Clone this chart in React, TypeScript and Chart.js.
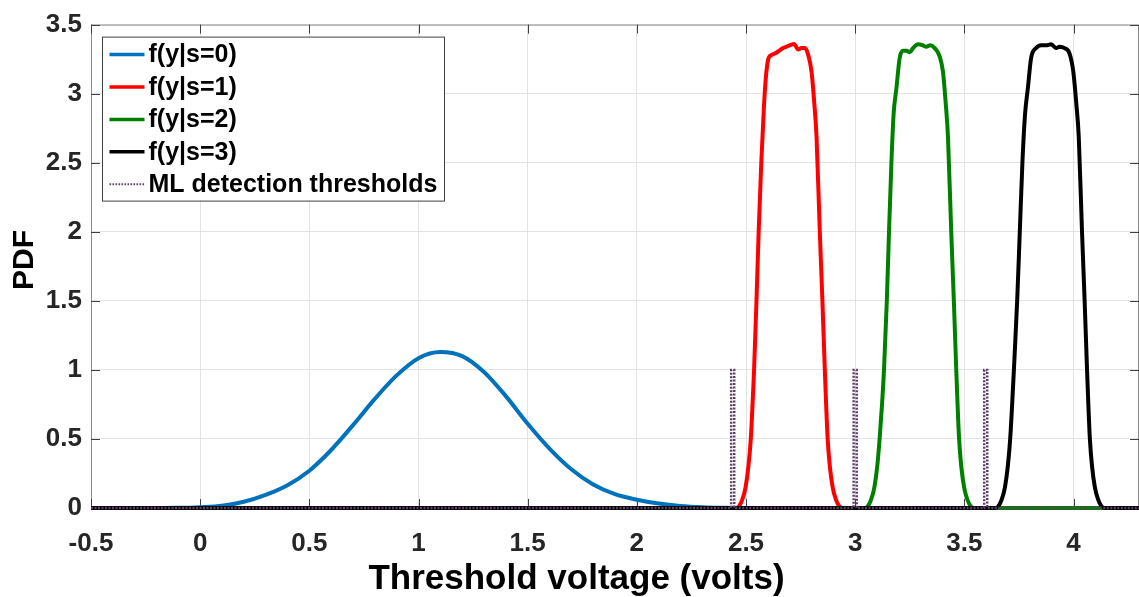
import React, { useEffect, useRef } from 'react';
import { Chart, registerables } from 'chart.js';

Chart.register(...registerables);

const FONT = "'Liberation Sans', Arial, Helvetica, sans-serif";

const xTicks = [-0.5, 0, 0.5, 1, 1.5, 2, 2.5, 3, 3.5, 4];
const yTicks = [0, 0.5, 1, 1.5, 2, 2.5, 3, 3.5];
const xMin = -0.5;
const xMax = 4.3;
const yMin = 0;
const yMax = 3.5;

const xTitle = 'Threshold voltage (volts)';
const yTitle = 'PDF';

const seriesLabels = ['f(y|s=0)', 'f(y|s=1)', 'f(y|s=2)', 'f(y|s=3)', 'ML detection thresholds'];
const seriesColors = ['#0072BD', '#FF0000', '#008000', '#000000', '#5E3F66'];

// f(y|s=0)
const s0X = [-0.5, -0.4, -0.3, -0.2, -0.1, 0, 0.1, 0.2, 0.3, 0.4, 0.5, 0.6, 0.7, 0.8, 0.9, 1.0, 1.1, 1.2, 1.3, 1.4, 1.5, 1.6, 1.7, 1.8, 1.9, 2.0, 2.1, 2.2, 2.3, 2.4, 2.5, 4.3];
const s0Y = [0, 0, 0, 0, 0.001, 0.006, 0.016, 0.045, 0.095, 0.165, 0.27, 0.42, 0.6, 0.79, 0.96, 1.085, 1.13, 1.1, 0.985, 0.81, 0.61, 0.43, 0.28, 0.17, 0.1, 0.06, 0.032, 0.015, 0.006, 0.002, 0, 0];

// f(y|s=1)
const s1X = [-0.5, 2.43, 2.455, 2.469, 2.483, 2.498, 2.511, 2.522, 2.53, 2.537, 2.548, 2.558, 2.57, 2.582, 2.59, 2.602, 2.617, 2.632, 2.647, 2.67, 2.7, 2.72, 2.739, 2.754, 2.77, 2.785, 2.8, 2.813, 2.823, 2.838, 2.85, 2.861, 2.867, 2.874, 2.884, 2.897, 2.912, 2.926, 2.94, 2.97, 4.3];
const s1Y = [0, 0, 0, 0.015, 0.06, 0.15, 0.3, 0.5, 0.75, 1.0, 1.5, 2.0, 2.5, 2.9, 3.1, 3.25, 3.28, 3.29, 3.305, 3.33, 3.35, 3.36, 3.32, 3.33, 3.33, 3.28, 3.16, 2.925, 2.69, 2.0, 1.5, 1.0, 0.75, 0.5, 0.3, 0.15, 0.06, 0.015, 0, 0, 0];

// f(y|s=2)
const s2X = [-0.5, 3.02, 3.045, 3.059, 3.073, 3.088, 3.101, 3.112, 3.123, 3.132, 3.145, 3.155, 3.166, 3.176, 3.189, 3.204, 3.219, 3.235, 3.25, 3.265, 3.288, 3.31, 3.326, 3.344, 3.364, 3.387, 3.402, 3.415, 3.425, 3.44, 3.452, 3.463, 3.469, 3.476, 3.486, 3.499, 3.514, 3.528, 3.542, 3.57, 4.3];
const s2Y = [0, 0, 0, 0.015, 0.06, 0.15, 0.3, 0.5, 0.75, 1.0, 1.5, 2.0, 2.5, 2.85, 3.04, 3.26, 3.31, 3.31, 3.3, 3.33, 3.357, 3.35, 3.34, 3.35, 3.33, 3.27, 3.16, 2.925, 2.69, 2.0, 1.5, 1.0, 0.75, 0.5, 0.3, 0.15, 0.06, 0.015, 0, 0, 0];

// f(y|s=3)
const s3X = [-0.5, 3.62, 3.643, 3.657, 3.671, 3.686, 3.699, 3.71, 3.719, 3.727, 3.742, 3.754, 3.766, 3.778, 3.791, 3.806, 3.829, 3.852, 3.875, 3.898, 3.921, 3.936, 3.959, 3.982, 3.999, 4.013, 4.024, 4.039, 4.051, 4.062, 4.068, 4.075, 4.085, 4.098, 4.113, 4.127, 4.141, 4.17, 4.3];
const s3Y = [0, 0, 0, 0.015, 0.06, 0.15, 0.3, 0.5, 0.75, 1.0, 1.5, 2.0, 2.5, 2.85, 3.04, 3.26, 3.33, 3.35, 3.35, 3.357, 3.33, 3.34, 3.33, 3.29, 3.16, 2.925, 2.69, 2.0, 1.5, 1.0, 0.75, 0.5, 0.3, 0.15, 0.06, 0.015, 0, 0, 0];

// ML detection thresholds
const thresholdVolts = [2.439, 3.0, 3.598];
const thresholdLevel = 1;
const thresholdHalfWidth = 0.007;

const zip = (xs: number[], ys: number[]) => xs.map((x, i) => ({ x, y: ys[i] }));

const thresholdPoints = (() => {
  const pts: { x: number; y: number }[] = [{ x: xMin, y: 0 }];
  thresholdVolts.forEach((t) => {
    pts.push({ x: t - thresholdHalfWidth, y: 0 });
    pts.push({ x: t - thresholdHalfWidth, y: thresholdLevel });
    pts.push({ x: t + thresholdHalfWidth, y: thresholdLevel });
    pts.push({ x: t + thresholdHalfWidth, y: 0 });
  });
  pts.push({ x: xMax, y: 0 });
  return pts;
})();

const framePlugin = {
  id: 'matlabFrame',
  beforeDatasetsDraw(chart: any) {
    const { ctx, chartArea } = chart;
    const { left, right, top, bottom } = chartArea;
    const xs = chart.scales.x;
    const ys = chart.scales.y;
    ctx.save();
    ctx.strokeStyle = '#8a8a8a';
    ctx.lineWidth = 1;
    ctx.strokeRect(left + 0.5, top + 0.5, right - left - 1, bottom - top - 1);
    ctx.strokeStyle = '#404040';
    const tl = 9;
    ctx.beginPath();
    xTicks.forEach((v) => {
      const px = Math.round(xs.getPixelForValue(v)) + 0.5;
      ctx.moveTo(px, bottom);
      ctx.lineTo(px, bottom - tl);
      ctx.moveTo(px, top);
      ctx.lineTo(px, top + tl);
    });
    yTicks.forEach((v) => {
      const py = Math.round(ys.getPixelForValue(v)) + 0.5;
      ctx.moveTo(left, py);
      ctx.lineTo(left + tl, py);
      ctx.moveTo(right, py);
      ctx.lineTo(right - tl, py);
    });
    ctx.stroke();
    ctx.restore();
  },
  afterDraw(chart: any) {
    const { ctx, chartArea } = chart;
    const { left, top } = chartArea;
    ctx.save();
    // axis titles
    ctx.fillStyle = '#000';
    ctx.font = `bold 35px ${FONT}`;
    ctx.textAlign = 'center';
    ctx.textBaseline = 'alphabetic';
    ctx.fillText(xTitle, left + 485.5, 589);
    ctx.save();
    ctx.translate(33, 260);
    ctx.rotate(-Math.PI / 2);
    ctx.font = `bold 30px ${FONT}`;
    ctx.fillText(yTitle, 0, 0);
    ctx.restore();

    // legend
    const lx = left + 11.5;
    const ly = top + 12;
    const lw = 342;
    const lh = 164;
    ctx.fillStyle = '#ffffff';
    ctx.fillRect(lx, ly, lw, lh);
    ctx.strokeStyle = '#404040';
    ctx.lineWidth = 1;
    ctx.strokeRect(lx, ly + 0.5, lw, lh);
    ctx.font = `bold 25px ${FONT}`;
    ctx.textAlign = 'left';
    ctx.textBaseline = 'middle';
    seriesLabels.forEach((label, i) => {
      const ry = ly + 18 + i * 32.4;
      ctx.beginPath();
      ctx.strokeStyle = seriesColors[i];
      if (i === 4) {
        ctx.lineWidth = 2;
        ctx.setLineDash([1.6, 1.4]);
      } else {
        ctx.lineWidth = 3.5;
        ctx.setLineDash([]);
      }
      ctx.moveTo(lx + 7, ry);
      ctx.lineTo(lx + 42, ry);
      ctx.stroke();
      ctx.setLineDash([]);
      ctx.fillStyle = '#000';
      ctx.fillText(label, lx + 46, ry + 1);
    });
    ctx.restore();
  },
};

export default function App() {
  const canvasRef = useRef<HTMLCanvasElement | null>(null);

  useEffect(() => {
    if (!canvasRef.current) return;
    const curve = (i: number, xs: number[], ys: number[], order: number) => ({
      label: seriesLabels[i],
      data: zip(xs, ys),
      borderColor: seriesColors[i],
      backgroundColor: seriesColors[i],
      borderWidth: 4,
      pointRadius: 0,
      fill: false,
      clip: 3,
      cubicInterpolationMode: 'monotone' as const,
      order,
    });
    const chart = new Chart(canvasRef.current, {
      type: 'line',
      data: {
        datasets: [
          curve(0, s0X, s0Y, 4),
          curve(1, s1X, s1Y, 3),
          curve(2, s2X, s2Y, 2),
          curve(3, s3X, s3Y, 1),
          {
            label: seriesLabels[4],
            data: thresholdPoints,
            borderColor: seriesColors[4],
            backgroundColor: seriesColors[4],
            borderWidth: 2.5,
            borderDash: [2, 1.5],
            pointRadius: 0,
            tension: 0,
            fill: false,
            clip: 3,
            order: 0,
          },
        ],
      },
      options: {
        responsive: false,
        animation: false,
        devicePixelRatio: 1,
        layout: { padding: { top: 16, left: 0, right: 0, bottom: 0 } },
        plugins: {
          legend: { display: false },
          title: { display: false },
          tooltip: { enabled: false },
        },
        scales: {
          x: {
            type: 'linear',
            min: xMin,
            max: xMax,
            afterBuildTicks: (s: any) => {
              s.ticks = xTicks.map((v) => ({ value: v }));
            },
            afterFit: (s: any) => {
              s.height = 89;
            },
            grid: { color: '#e3e3e3', lineWidth: 1, drawTicks: false },
            border: { display: false },
            ticks: {
              autoSkip: false,
              maxRotation: 0,
              padding: 20,
              color: '#262626',
              font: { family: FONT, size: 26, weight: 'bold' },
              callback: (v: any) => String(v),
            },
          },
          y: {
            type: 'linear',
            min: yMin,
            max: yMax,
            afterBuildTicks: (s: any) => {
              s.ticks = yTicks.map((v) => ({ value: v }));
            },
            afterFit: (s: any) => {
              s.width = 91;
            },
            grid: { color: '#e3e3e3', lineWidth: 1, drawTicks: false },
            border: { display: false },
            ticks: {
              autoSkip: false,
              padding: 9,
              color: '#262626',
              font: { family: FONT, size: 26, weight: 'bold' },
              callback: (v: any) => String(v),
            },
          },
        },
      },
      plugins: [framePlugin],
    } as any);
    return () => chart.destroy();
  }, []);

  return (
    <div style={{ position: 'absolute', left: 0, top: 0, width: 1139, height: 597, background: '#ffffff' }}>
      <canvas ref={canvasRef} width={1139} height={597} style={{ display: 'block' }} />
    </div>
  );
}
